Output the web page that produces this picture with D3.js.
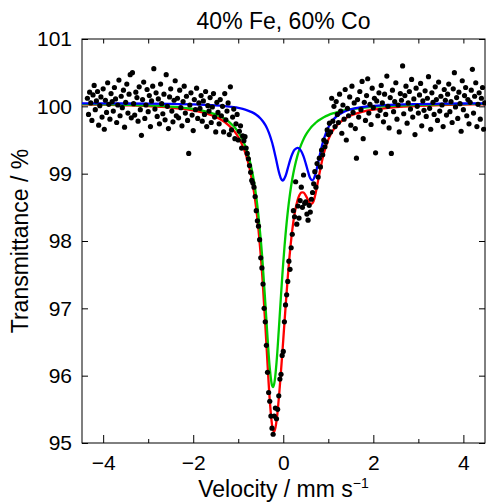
<!DOCTYPE html>
<html>
<head>
<meta charset="utf-8">
<script src="https://cdn.jsdelivr.net/npm/d3@7"></script>
<style>
body { margin: 0; background: white; }
text { font-family: "Liberation Sans", Arial, sans-serif; fill: black; }
</style>
</head>
<body>
<svg class="svgMain" width="486" height="502"></svg>
<script>
// Mossbauer spectrum: measured points, singlet (green), doublet (blue), total fit (red).

PLOT_L = 82;
PLOT_R = 485;
PLOT_T = 39;
PLOT_B = 443;
DOT_R = 2.6;

var velocity = [
    -4.35,-4.325,-4.3,-4.275,-4.25,-4.225,-4.2,-4.175,-4.15,-4.125,-4.1,-4.075,-4.05,-4.025,-4,-3.975,-3.95,-3.925,-3.9,-3.875,
    -3.85,-3.825,-3.8,-3.775,-3.75,-3.725,-3.7,-3.675,-3.65,-3.625,-3.6,-3.575,-3.55,-3.525,-3.5,-3.475,-3.45,-3.425,-3.4,-3.375,
    -3.35,-3.325,-3.3,-3.275,-3.25,-3.225,-3.2,-3.175,-3.15,-3.125,-3.1,-3.075,-3.05,-3.025,-3,-2.975,-2.95,-2.925,-2.9,-2.875,
    -2.85,-2.825,-2.8,-2.775,-2.75,-2.725,-2.7,-2.675,-2.65,-2.625,-2.6,-2.575,-2.55,-2.525,-2.5,-2.475,-2.45,-2.425,-2.4,-2.375,
    -2.35,-2.325,-2.3,-2.275,-2.25,-2.225,-2.2,-2.175,-2.15,-2.125,-2.1,-2.075,-2.05,-2.025,-2,-1.975,-1.95,-1.925,-1.9,-1.875,
    -1.85,-1.825,-1.8,-1.775,-1.75,-1.725,-1.7,-1.675,-1.65,-1.625,-1.6,-1.575,-1.55,-1.525,-1.5,-1.475,-1.45,-1.425,-1.4,-1.375,
    -1.35,-1.325,-1.3,-1.275,-1.25,-1.225,-1.2,-1.175,-1.15,-1.125,-1.1,-1.075,-1.05,-1.025,-1,-0.975,-0.95,-0.925,-0.9,-0.875,
    -0.85,-0.825,-0.8,-0.775,-0.75,-0.725,-0.7,-0.675,-0.65,-0.625,-0.6,-0.575,-0.55,-0.525,-0.5,-0.475,-0.45,-0.425,-0.4,-0.375,
    -0.35,-0.325,-0.3,-0.275,-0.25,-0.225,-0.2,-0.175,-0.15,-0.125,-0.1,-0.075,-0.05,-0.025,0,0.025,0.05,0.075,0.1,0.125,
    0.15,0.175,0.2,0.225,0.25,0.275,0.3,0.325,0.35,0.375,0.4,0.425,0.45,0.475,0.5,0.525,0.55,0.575,0.6,0.625,
    0.65,0.675,0.7,0.725,0.75,0.775,0.8,0.825,0.85,0.875,0.9,0.925,0.95,0.975,1,1.025,1.05,1.075,1.1,1.125,
    1.15,1.175,1.2,1.225,1.25,1.275,1.3,1.325,1.35,1.375,1.4,1.425,1.45,1.475,1.5,1.525,1.55,1.575,1.6,1.625,
    1.65,1.675,1.7,1.725,1.75,1.775,1.8,1.825,1.85,1.875,1.9,1.925,1.95,1.975,2,2.025,2.05,2.075,2.1,2.125,
    2.15,2.175,2.2,2.225,2.25,2.275,2.3,2.325,2.35,2.375,2.4,2.425,2.45,2.475,2.5,2.525,2.55,2.575,2.6,2.625,
    2.65,2.675,2.7,2.725,2.75,2.775,2.8,2.825,2.85,2.875,2.9,2.925,2.95,2.975,3,3.025,3.05,3.075,3.1,3.125,
    3.15,3.175,3.2,3.225,3.25,3.275,3.3,3.325,3.35,3.375,3.4,3.425,3.45,3.475,3.5,3.525,3.55,3.575,3.6,3.625,
    3.65,3.675,3.7,3.725,3.75,3.775,3.8,3.825,3.85,3.875,3.9,3.925,3.95,3.975,4,4.025,4.05,4.075,4.1,4.125,
    4.15,4.175,4.2,4.225,4.25,4.275,4.3,4.325,4.35,4.375,4.4,4.425,4.45,4.475
];

var transmittance = [
    100.12,99.88,100.21,100.05,99.79,100.17,100.31,99.95,100.08,100.22,99.72,100.01,100.14,99.84,100.26,99.66,100.09,99.91,100.35,100.03,
    99.81,100.19,100.07,99.93,100.28,100.11,99.76,100.02,100.39,99.86,100.15,99.98,100.24,99.69,100.06,100.33,99.9,100.18,100.47,99.83,
    100.5,100.04,99.87,100.21,100.13,99.78,100.29,99.95,99.57,100.1,100.36,99.82,100.02,100.25,99.92,100.16,99.7,100.08,100.3,100.56,
    99.96,100.2,99.85,100.11,99.74,100.33,100.04,99.89,100.18,99.8,100.47,100.0,99.67,100.14,100.26,99.93,99.77,100.09,100.38,99.86,
    100.12,99.83,100.24,99.98,99.71,100.07,100.3,99.9,100.15,99.79,99.3,100.02,100.2,99.87,99.64,100.1,99.95,100.27,99.82,100.05,
    99.97,100.16,99.78,100.08,99.88,100.22,99.7,100.01,99.93,100.13,99.76,99.99,100.19,99.84,99.62,100.06,99.91,99.74,100.1,99.86,
    100.0,99.62,100.19,99.8,99.93,100.05,99.58,100.29,99.65,99.84,99.96,99.52,99.74,99.88,99.5,99.63,99.71,99.38,99.56,99.49,
    99.55,99.38,99.3,99.22,99.12,99.02,98.9,98.86,98.8,98.66,98.45,98.3,98.22,98.02,97.75,97.6,97.36,97.0,96.8,96.45,
    96.05,95.75,95.62,95.4,95.22,95.13,95.4,95.52,95.36,95.5,95.7,95.95,96.02,96.3,96.36,96.8,97.05,97.2,97.4,97.7,
    97.58,97.9,98.1,98.45,98.36,98.88,98.25,98.52,98.34,98.6,98.8,98.5,98.98,98.56,98.58,98.4,98.31,98.53,98.43,98.62,
    98.72,98.85,99.03,98.8,99.15,98.95,99.23,99.1,99.35,99.28,99.5,99.4,99.47,99.65,99.58,99.75,99.62,100.12,99.78,100.0,
    99.7,100.07,99.88,99.76,100.18,99.93,99.6,100.02,99.81,100.25,99.5,99.97,99.86,100.14,99.72,100.3,99.91,100.05,99.67,99.23,
    100.1,99.84,100.22,99.95,100.37,99.52,100.06,99.79,100.16,100.41,99.9,100.03,99.73,100.27,99.98,100.12,99.31,100.08,99.86,100.2,
    99.94,100.31,100.05,99.77,100.18,99.88,100.45,100.0,99.68,100.13,99.3,100.24,99.92,100.07,100.35,99.81,100.02,99.62,100.19,100.09,
    100.6,99.89,100.16,100.3,99.75,100.05,100.22,99.96,100.4,99.84,100.11,99.58,100.27,100.0,99.9,100.17,100.34,99.71,100.08,99.94,
    100.23,99.85,100.12,100.44,99.97,99.66,100.2,100.06,99.88,100.29,100.1,99.79,100.36,99.93,100.15,100.02,99.7,100.25,100.09,99.87,
    100.18,100.33,99.92,100.07,99.76,100.26,100.5,99.99,100.13,99.82,100.21,100.04,99.63,100.38,99.95,100.16,100.28,99.86,100.1,99.74,
    100.06,100.24,100.55,99.9,100.15,100.35,99.7,100.03,100.2,99.81,100.12,100.28,99.66,100.05
];

var curveVelocity = [-4.47, -4, -3.5, -3, -2.5, -2, -1.75, -1.5, -1.3, -1.1, -1.0, -0.9, -0.8, -0.7, -0.6,
    -0.5, -0.45, -0.4, -0.35, -0.3, -0.25, -0.23, -0.2, -0.15, -0.1, -0.05, -0.02, 0, 0.05, 0.1, 0.15,
    0.2, 0.25, 0.315, 0.35, 0.4, 0.45, 0.5, 0.55, 0.6, 0.65, 0.7, 0.75, 0.8, 0.9, 1.0, 1.1, 1.2, 1.35,
    1.5, 1.75, 2, 2.5, 3, 3.5, 4, 4.48];

var singletFit = [100.034, 100.030, 100.023, 100.013, 99.995, 99.961, 99.930, 99.880, 99.815, 99.704, 99.618, 99.498, 99.323, 99.061, 98.655,
    98.019, 97.591, 97.094, 96.571, 96.115, 95.855, 95.830, 95.885, 96.195, 96.674, 97.197, 97.496, 97.683, 98.096, 98.434, 98.704,
    98.920, 99.093, 99.268, 99.344, 99.436, 99.512, 99.575, 99.628, 99.673, 99.711, 99.744, 99.773, 99.797, 99.838, 99.870, 99.895, 99.915, 99.939,
    99.957, 99.979, 99.993, 100.012, 100.023, 100.030, 100.034, 100.037];

var doubletFit = [100.045, 100.044, 100.042, 100.040, 100.036, 100.028, 100.022, 100.014, 100.003, 99.987, 99.976, 99.961, 99.941, 99.914, 99.875,
    99.816, 99.775, 99.724, 99.658, 99.573, 99.466, 99.416, 99.334, 99.183, 99.033, 98.926, 98.900, 98.902, 98.965, 99.078, 99.196,
    99.292, 99.354, 99.384, 99.375, 99.333, 99.257, 99.150, 99.030, 98.931, 98.900, 98.961, 99.090, 99.244, 99.512, 99.686, 99.793, 99.860, 99.920,
    99.956, 99.989, 100.007, 100.026, 100.034, 100.039, 100.042, 100.044];

var totalFit = [100.029, 100.024, 100.015, 100.003, 99.981, 99.939, 99.902, 99.844, 99.768, 99.641, 99.544, 99.409, 99.214, 98.925, 98.480,
    97.785, 97.316, 96.768, 96.179, 95.638, 95.271, 95.196, 95.169, 95.328, 95.657, 96.073, 96.346, 96.535, 97.011, 97.462, 97.850,
    98.162, 98.397, 98.602, 98.669, 98.719, 98.719, 98.675, 98.608, 98.554, 98.561, 98.655, 98.813, 98.991, 99.300, 99.506, 99.638, 99.725, 99.809,
    99.863, 99.918, 99.950, 99.988, 100.007, 100.019, 100.026, 100.031];

var xTicks = [-4, -2, 0, 2, 4];
var xMinorTicks = [-3, -1, 1, 3];
var yTicks = [95, 96, 97, 98, 99, 100, 101];

var svgMain = d3.select(".svgMain");

var x = d3.scaleLinear().domain([-4.47, 4.48]).range([PLOT_L, PLOT_R]);
var y = d3.scaleLinear().domain([95, 101]).range([PLOT_B, PLOT_T]);

function styleAxis (g, fontSize) {
    g.select(".domain").remove();
    g.selectAll(".tick line").attr("stroke", "#000");
    g.selectAll(".tick text")
        .attr("fill", "#000")
        .style("font-family", '"Liberation Sans", Arial, sans-serif')
        .style("font-size", fontSize + "px");
}

function drawAxes () {
    // Bottom: labelled major ticks plus short minor ticks, all pointing inward
    svgMain.append("g")
        .attr("transform", "translate(0," + PLOT_B + ")")
        .call(d3.axisBottom(x).tickValues(xTicks).tickSize(-8).tickPadding(12))
        .call(styleAxis, 21);
    svgMain.append("g")
        .attr("transform", "translate(0," + PLOT_B + ")")
        .call(d3.axisBottom(x).tickValues(xMinorTicks).tickSize(-4).tickFormat(""))
        .call(styleAxis, 21);
    // Top
    svgMain.append("g")
        .attr("transform", "translate(0," + PLOT_T + ")")
        .call(d3.axisTop(x).tickValues(xTicks.concat(xMinorTicks)).tickSize(-4.5).tickFormat(""))
        .call(styleAxis, 21);
    // Left / right
    svgMain.append("g")
        .attr("transform", "translate(" + PLOT_L + ",0)")
        .call(d3.axisLeft(y).tickValues(yTicks).tickSize(-6).tickPadding(10).tickFormat(d3.format("d")))
        .call(styleAxis, 21);
    svgMain.append("g")
        .attr("transform", "translate(" + PLOT_R + ",0)")
        .call(d3.axisRight(y).tickValues(yTicks).tickSize(-6).tickFormat(""))
        .call(styleAxis, 21);

    svgMain.append("rect")
        .attr("x", PLOT_L).attr("y", PLOT_T)
        .attr("width", PLOT_R - PLOT_L).attr("height", PLOT_B - PLOT_T)
        .attr("fill", "none").attr("stroke", "#000").attr("stroke-width", 1);
}

function drawFits () {
    var fits = [
        { values: totalFit, color: "#ff0000" },
        { values: singletFit, color: "#00cc00" },
        { values: doubletFit, color: "#0000ff" }
    ];
    var line = d3.line()
        .x(function (d) { return x(d[0]); })
        .y(function (d) { return y(d[1]); })
        .curve(d3.curveCatmullRom.alpha(0.5));
    for (let i = 0; i < fits.length; i++) {
        svgMain.append("path")
            .datum(d3.zip(curveVelocity, fits[i].values))
            .attr("fill", "none")
            .attr("stroke", fits[i].color)
            .attr("stroke-width", 2.3)
            .attr("d", line);
    }
}

function drawPoints () {
    svgMain.append("g")
        .selectAll("circle")
        .data(d3.zip(velocity, transmittance))
        .join("circle")
        .attr("cx", function (d) { return x(d[0]); })
        .attr("cy", function (d) { return y(d[1]); })
        .attr("r", DOT_R)
        .attr("fill", "#000");
}

function drawLabels () {
    svgMain.append("text")
        .attr("x", (PLOT_L + PLOT_R) / 2).attr("y", 29)
        .attr("text-anchor", "middle")
        .style("font-size", "23px")
        .text("40% Fe, 60% Co");

    var xLabel = svgMain.append("text")
        .attr("x", (PLOT_L + PLOT_R) / 2).attr("y", 497)
        .attr("text-anchor", "middle")
        .style("font-size", "23px");
    xLabel.append("tspan").text("Velocity / mm s");
    xLabel.append("tspan").attr("dy", -9).style("font-size", "14px").text("\u22121");

    svgMain.append("text")
        .attr("transform", "translate(28," + ((PLOT_T + PLOT_B) / 2) + ") rotate(-90)")
        .attr("text-anchor", "middle")
        .style("font-size", "23px")
        .text("Transmittance / %");
}

drawAxes();
drawFits();
drawPoints();
drawLabels();
</script>
</body>
</html>
